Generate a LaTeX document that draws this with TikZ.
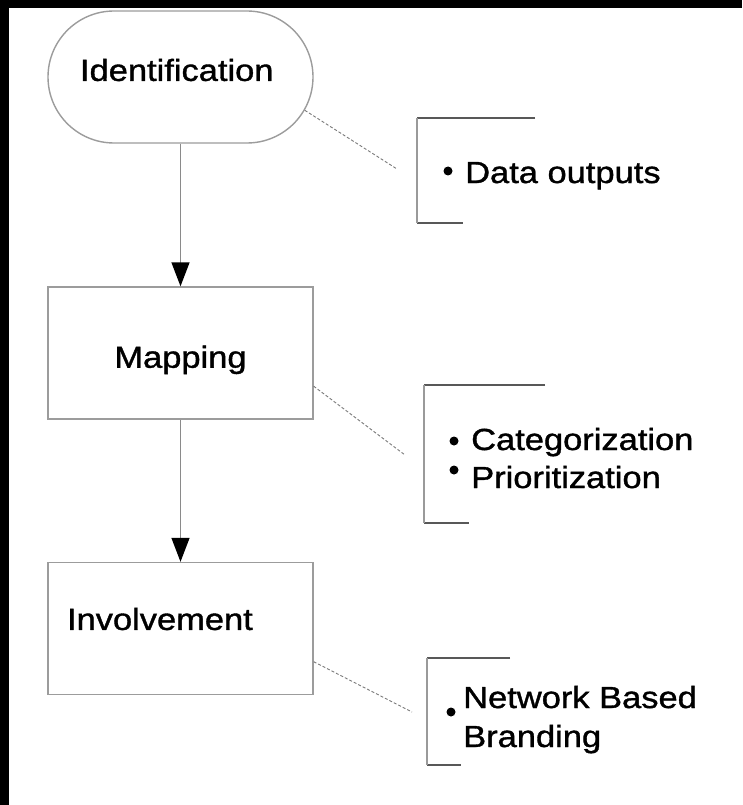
\documentclass[tikz,border=0pt]{standalone}
\usepackage{fontspec}
\setmainfont{Liberation Sans}[FakeStretch=1.13,FakeBold=1.2]
\usetikzlibrary{arrows.meta,shapes.misc}

\definecolor{edgegray}{HTML}{9C9C9C}
\definecolor{linkgray}{HTML}{8A8A8A}
\definecolor{dashgray}{HTML}{7A7A7A}
\definecolor{bracketdark}{HTML}{585858}
\definecolor{bracketlight}{HTML}{9A9A9A}

\begin{document}
\begin{tikzpicture}[x=1pt,y=-1pt,
  every node/.style={font=\fontsize{30.5}{36}\selectfont},
  stage/.style={draw=edgegray,line width=1.4pt,minimum width=265pt,
    minimum height=132pt,inner sep=0pt,text height=21.8pt,text depth=0pt},
  flow/.style={draw=linkgray,line width=1.4pt,
    -{Triangle[length=24pt,width=18pt,color=black]}},
  link/.style={draw=dashgray,line width=0.9pt,dash pattern=on 3pt off 2pt},
  bracketrule/.style={draw=bracketdark,line width=1.4pt},
  bracketside/.style={draw=bracketlight,line width=1.4pt},
  bullet/.style={circle,fill=black,inner sep=0pt,minimum size=9pt},
  item/.style={anchor=base west,inner sep=0pt}]

  % frame
  \useasboundingbox (0,0) rectangle (742,805);
  \fill[black] (0,0) rectangle (742,805);
  \fill[white] (9,8) rectangle (742,805);

  % process stages
  \node[stage,rounded rectangle,text depth=14pt,text width=201pt,align=left] (idn) at (180.5,77) {Identification};
  \node[stage,rectangle,text height=29.5pt] (map) at (180.5,353) {Mapping};
  \node[stage,rectangle,text depth=19pt,text width=227pt,align=left] (inv) at (180.5,628.5) {Involvement};

  % flow arrows
  \draw[flow] (idn.south) -- (map.north);
  \draw[flow] (map.south) -- (inv.north);

  % outputs of each stage
  \draw[bracketrule] (535,118) -- (417,118);
  \draw[bracketrule] (417,223) -- (463,223);
  \draw[bracketside] (417,118) -- (417,223);
  \node[bullet] (b1) at (448,171) {};
  \node[item] (t1) at (465,183) {Data outputs};

  \draw[bracketrule] (545,385) -- (424,385);
  \draw[bracketrule] (424,523) -- (469,523);
  \draw[bracketside] (424,385) -- (424,523);
  \node[bullet] (b2) at (454,441) {};
  \node[item] (t2) at (471,450) {Categorization};
  \node[bullet] (b3) at (454,470) {};
  \node[item] (t3) at (471,488) {Prioritization};

  \draw[bracketrule] (510,658) -- (427,658);
  \draw[bracketrule] (427,765) -- (461,765);
  \draw[bracketside] (427,658) -- (427,765);
  \node[bullet] (b4) at (451,712) {};
  \node[item] (t4) at (463,708) {Network Based};
  \node[item] (t5) at (463,747) {Branding};

  % dashed leaders from stages to their outputs
  \coordinate (idn-end) at (397,169);
  \coordinate (map-end) at (405,455);
  \coordinate (inv-end) at (412,712);
  \draw[link] (idn.-15.6) -- (idn-end);
  \draw[link] (map.-14.4) -- (map-end);
  \draw[link] (inv.-14.2) -- (inv-end);
\end{tikzpicture}
\end{document}
